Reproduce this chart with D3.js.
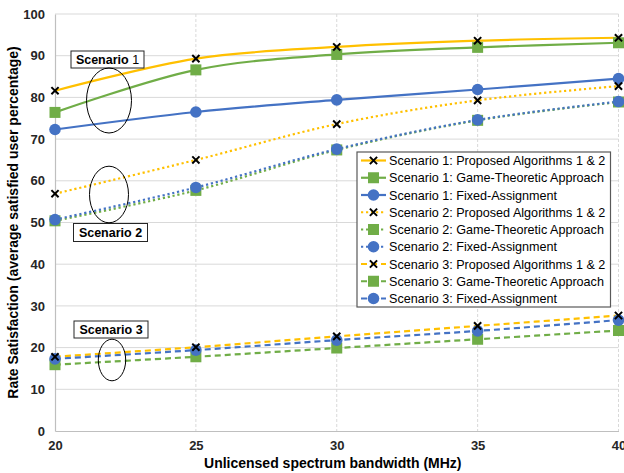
<!DOCTYPE html>
<html><head><meta charset="utf-8">
<script src="https://cdn.jsdelivr.net/npm/d3@7"></script>
<style>body{margin:0;background:#fff;} svg{display:block;font-family:"Liberation Sans",Arial,sans-serif;}</style>
</head><body>
<svg id="c" width="624" height="473"></svg>
<script>
const bandwidth = [20, 25, 30, 35, 40];
const yTicks = [0, 10, 20, 30, 40, 50, 60, 70, 80, 90, 100];
const s1Proposed = [81.6, 89.3, 92.1, 93.6, 94.3];
const s1Game = [76.4, 86.6, 90.3, 92.0, 93.1];
const s1Fixed = [72.3, 76.5, 79.4, 81.9, 84.5];
const s2Proposed = [56.9, 65.0, 73.6, 79.3, 82.7];
const s2Game = [50.4, 57.7, 67.4, 74.5, 78.9];
const s2Fixed = [50.7, 58.4, 67.6, 74.6, 79.0];
const s3Proposed = [17.8, 20.1, 22.7, 25.2, 27.7];
const s3Game = [15.9, 17.8, 19.9, 22.0, 24.1];
const s3Fixed = [17.3, 19.4, 21.8, 24.0, 26.6];
const seriesNames = [
  "Scenario 1: Proposed Algorithms 1 & 2","Scenario 1: Game-Theoretic Approach","Scenario 1: Fixed-Assignment",
  "Scenario 2: Proposed Algorithms 1 & 2","Scenario 2: Game-Theoretic Approach","Scenario 2: Fixed-Assignment",
  "Scenario 3: Proposed Algorithms 1 & 2","Scenario 3: Game-Theoretic Approach","Scenario 3: Fixed-Assignment"];
const xTitle = "Unlicensed spectrum bandwidth (MHz)";
const yTitle = "Rate Satisfaction (average satisfied user percentage)";

const colors = {proposed:"#FFC000", game:"#70AD47", fixed:"#4472C4"};
const dashes = {1:null, 2:"2.2,2.8", 3:"6,4"};
const series = [
  {name:seriesNames[0], values:s1Proposed, kind:"proposed", sc:1},
  {name:seriesNames[1], values:s1Game, kind:"game", sc:1},
  {name:seriesNames[2], values:s1Fixed, kind:"fixed", sc:1},
  {name:seriesNames[3], values:s2Proposed, kind:"proposed", sc:2},
  {name:seriesNames[4], values:s2Game, kind:"game", sc:2},
  {name:seriesNames[5], values:s2Fixed, kind:"fixed", sc:2},
  {name:seriesNames[6], values:s3Proposed, kind:"proposed", sc:3},
  {name:seriesNames[7], values:s3Game, kind:"game", sc:3},
  {name:seriesNames[8], values:s3Fixed, kind:"fixed", sc:3}
];

const svg = d3.select("#c");
const L = 55, R = 618.5, T = 14, B = 431;
const x = d3.scaleLinear().domain([20, 40]).range([L, R]);
const y = d3.scaleLinear().domain([0, 100]).range([B, T]);

// gridlines
const g = svg.append("g");
g.selectAll(".hg").data(yTicks.slice(1)).join("line")
  .attr("x1", L).attr("x2", R).attr("y1", d => y(d)).attr("y2", d => y(d))
  .attr("stroke", "#d9d9d9").attr("stroke-width", 1);
g.selectAll(".vg").data(bandwidth.slice(1)).join("line")
  .attr("x1", d => x(d)).attr("x2", d => x(d)).attr("y1", T).attr("y2", B)
  .attr("stroke", "#d9d9d9").attr("stroke-width", 1).attr("stroke-dasharray", "3,2");

// axes
const yAxis = svg.append("g").attr("transform", `translate(${L},0)`)
  .call(d3.axisLeft(y).tickValues(yTicks).tickSize(0).tickPadding(10));
const xAxis = svg.append("g").attr("transform", `translate(0,${B})`)
  .call(d3.axisBottom(x).tickValues(bandwidth).tickSize(0).tickPadding(10));
[yAxis, xAxis].forEach(a => {
  a.select(".domain").attr("stroke", "#bfbfbf").attr("stroke-width", 1.2);
  a.selectAll("text").attr("font-size", 13).attr("font-weight", "bold").attr("fill", "#262626")
    .attr("font-family", '"Liberation Sans",Arial,sans-serif');
});

// lines
const line = d3.line().x((d, i) => x(bandwidth[i])).y(d => y(d)).curve(d3.curveCatmullRom.alpha(0));
const lg = svg.append("g");
series.forEach(s => {
  lg.append("path").attr("d", line(s.values)).attr("fill", "none")
    .attr("stroke", colors[s.kind]).attr("stroke-width", 2.2)
    .attr("stroke-dasharray", dashes[s.sc]);
});

function marker(sel, kind, cx, cy) {
  if (kind === "proposed") {
    const r = 3.6;
    sel.append("path").attr("d", `M${cx-r},${cy-r}L${cx+r},${cy+r}M${cx-r},${cy+r}L${cx+r},${cy-r}`)
      .attr("stroke", "#000").attr("stroke-width", 2);
  } else if (kind === "game") {
    sel.append("rect").attr("x", cx - 5.5).attr("y", cy - 5.5).attr("width", 11).attr("height", 11)
      .attr("fill", colors.game);
  } else {
    sel.append("circle").attr("cx", cx).attr("cy", cy).attr("r", 5.8).attr("fill", colors.fixed);
  }
}
const mg = svg.append("g");
[1,2,3].forEach(sc => {
  ["game","fixed","proposed"].forEach(kind => {
    const s = series.find(q => q.sc === sc && q.kind === kind);
    s.values.forEach((v, i) => marker(mg, kind, x(bandwidth[i]), y(v)));
  });
});

// annotations
const ann = svg.append("g");
function box(x0, y0, w, h, parts) {
  ann.append("rect").attr("x", x0).attr("y", y0).attr("width", w).attr("height", h)
    .attr("fill", "#fff").attr("stroke", "#262626").attr("stroke-width", 1);
  const t = ann.append("text").attr("x", x0 + w/2).attr("y", y0 + h/2 + 4.5).attr("text-anchor", "middle")
    .attr("font-size", 12.5).attr("fill", "#000");
  parts.forEach(p => t.append("tspan").attr("font-weight", p[1] ? "bold" : "normal").text(p[0]));
}
box(71, 51, 73, 17, [["Scenario ", true], ["1", false]]);
box(73.5, 223.5, 74, 18, [["Scenario 2", true]]);
box(74, 321, 74, 17, [["Scenario 3", true]]);
[[109, 100.5, 22.5, 32.5], [109, 194.5, 19.5, 28.3], [112, 360, 13.7, 20.8]].forEach(e => {
  ann.append("ellipse").attr("cx", e[0]).attr("cy", e[1]).attr("rx", e[2]).attr("ry", e[3])
    .attr("fill", "none").attr("stroke", "#000").attr("stroke-width", 1);
});

// legend
const leg = svg.append("g");
leg.append("rect").attr("x", 357).attr("y", 152).attr("width", 253.5).attr("height", 155)
  .attr("fill", "#fff").attr("stroke", "#595959").attr("stroke-width", 1.2);
series.forEach((s, i) => {
  const yy = 160.5 + i * 17.25;
  leg.append("line").attr("x1", 361).attr("x2", 386).attr("y1", yy).attr("y2", yy)
    .attr("stroke", colors[s.kind]).attr("stroke-width", 2.2).attr("stroke-dasharray", dashes[s.sc]);
  marker(leg, s.kind, 373.5, yy);
  leg.append("text").attr("x", 389).attr("y", yy + 4.5).attr("font-size", 12.6).attr("fill", "#000").text(s.name);
});

// titles
svg.append("text").attr("x", (L + R) / 2 - 4).attr("y", 468).attr("text-anchor", "middle")
  .attr("font-size", 14).attr("font-weight", "bold").attr("fill", "#000").text(xTitle);
svg.append("text").attr("transform", `translate(18,${(T + B) / 2}) rotate(-90)`).attr("text-anchor", "middle")
  .attr("font-size", 14).attr("font-weight", "bold").attr("fill", "#000").text(yTitle);
</script>
</body></html>
